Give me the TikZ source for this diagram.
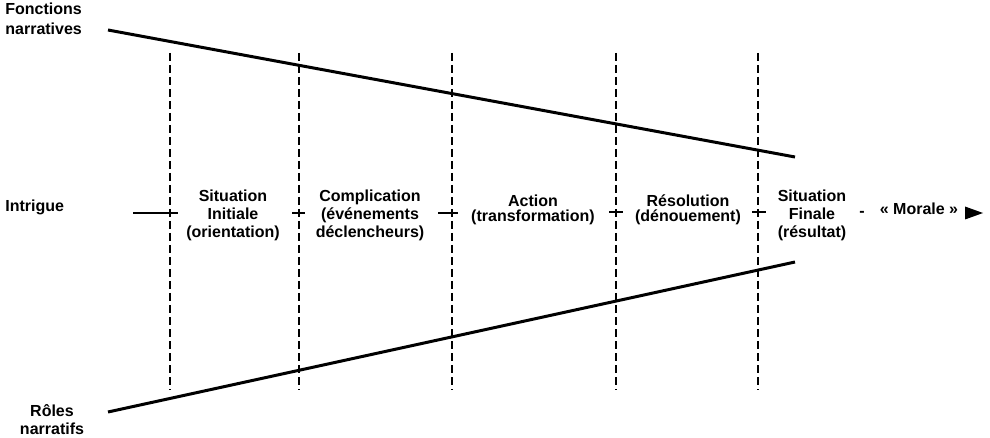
\documentclass[tikz,border=0pt]{standalone}
\usepackage{fontspec}
\setmainfont{Liberation Sans}
\begin{document}
\begin{tikzpicture}[x=0.5pt,y=-0.5pt,
    every node/.style={inner sep=0pt,font=\bfseries\fontsize{8}{9}\selectfont},
    stage/.style={align=center,font=\bfseries\fontsize{8}{9}\selectfont},
    stageshort/.style={align=center,font=\bfseries\fontsize{8}{7.5}\selectfont},
    border/.style={dash pattern=on 4pt off 2pt,line width=0.9pt},
    tick/.style={line width=1pt}]
      \useasboundingbox (0,0) rectangle (990,438);
      % Left labels
      \node[anchor=west,align=left,font=\bfseries\fontsize{8}{10}\selectfont]
        (fonctions) at (5,19) {Fonctions\\narratives};
      \node[anchor=base west] (intrigue) at (5,212) {Intrigue};
      \node[align=center] (roles) at (52,420) {Rôles\\narratifs};
      % Upper and lower lines
      \draw[line width=1.5pt] (108,30) -- (795,157);
      \draw[line width=1.5pt] (108,412) -- (795,262);
      % Dashed limits between the stages
      \foreach \x in {170,299,452,616,758}{
        \draw[border] (\x,53) -- (\x,390);
      }
      % Small ticks on the plot line
      \draw[tick] (133,213) -- (178,213);
      \draw[tick] (292,213) -- (305,213);
      \draw[tick] (438,213) -- (458,213);
      \draw[tick] (609,212) -- (623,212);
      \draw[tick] (752,212) -- (766,212);
      % the stages
      \node[stage] (initiale) at (233,215.5) {Situation\\Initiale\\(orientation)};
      \node[stage] (complication) at (370,215) {Complication\\(événements\\déclencheurs)};
      \node[stageshort] (action) at (533,210) {Action\\(transformation)};
      \node[stageshort] (resolution) at (688,209.5) {Résolution\\(dénouement)};
      \node[stage] (finale) at (812,215.5) {Situation\\Finale\\(résultat)};
      % Moral and arrow head
      \node[anchor=base] (tiret) at (862,217) {-};
      \node[anchor=base] (morale) at (919,215) {« Morale »};
      \fill (965,206.5) -- (983,213) -- (965,219.5) -- cycle;
\end{tikzpicture}
\end{document}
